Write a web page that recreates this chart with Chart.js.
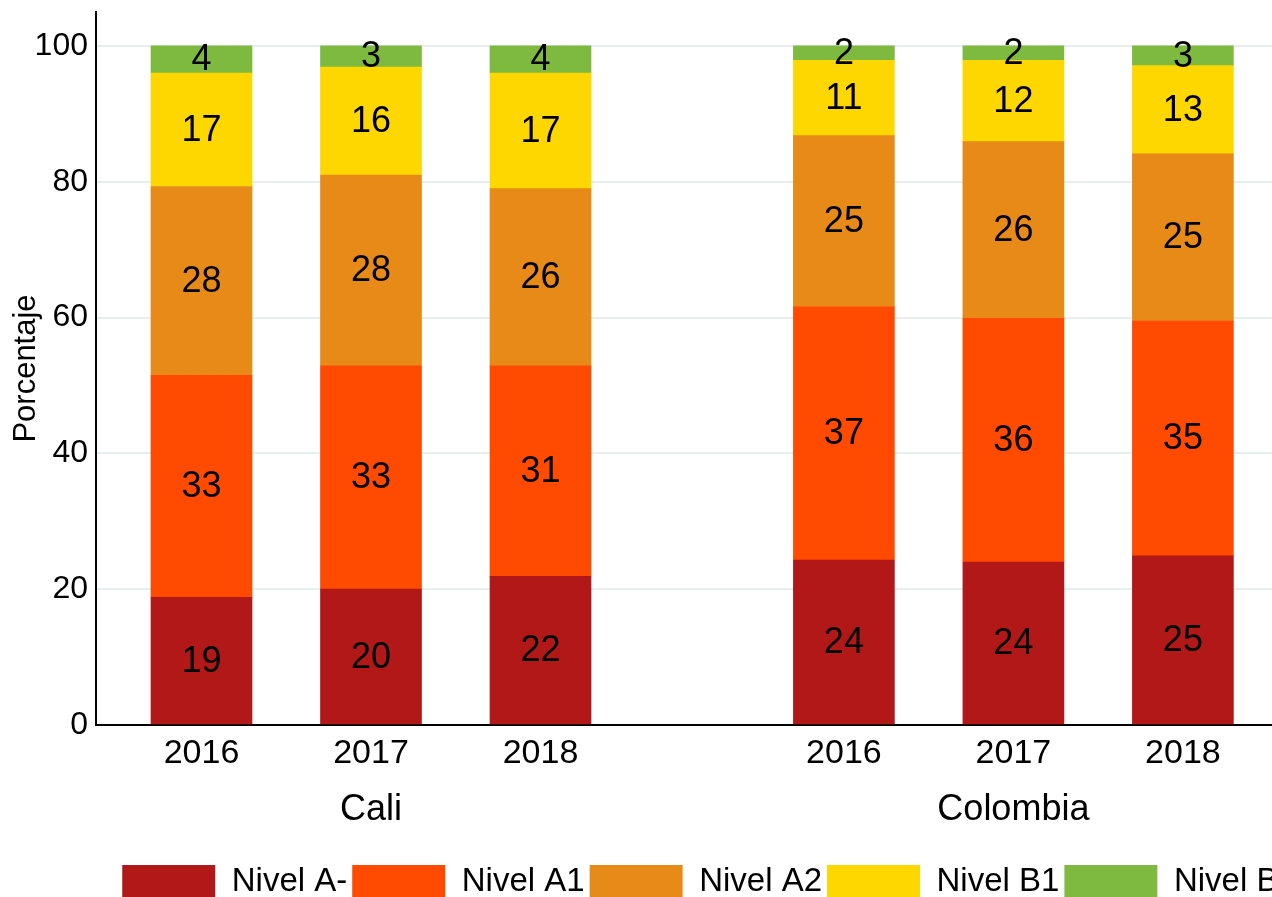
<!DOCTYPE html>
<html lang="es">
<head>
    <meta charset="UTF-8">
    <title>Niveles de inglés - Cali y Colombia</title>
    <script src="https://cdn.jsdelivr.net/npm/chart.js"></script>
    <style>
        html, body {
            margin: 0;
            padding: 0;
            background: #fff;
            overflow: hidden;
        }
        #wrap {
            position: absolute;
            left: 0;
            top: 0;
        }
    </style>
</head>
<body>

<div id="wrap">
    <canvas id="levelsChart" width="1419" height="912"></canvas>
</div>

<script>
    // Data
    const groups = ['Cali', 'Colombia'];
    const years = ['2016', '2017', '2018'];
    const levels = ['Nivel A-', 'Nivel A1', 'Nivel A2', 'Nivel B1', 'Nivel B2'];

    // one value per bar: Cali 2016-2018, Colombia 2016-2018
    const nivelAminus = [18.8, 20.0, 21.9, 24.3, 24.0, 24.9];
    const nivelA1 = [32.7, 32.9, 31.0, 37.3, 35.9, 34.6];
    const nivelA2 = [27.8, 28.1, 26.1, 25.2, 26.0, 24.6];
    const nivelB1 = [16.7, 15.9, 17.0, 11.1, 12.0, 13.0];
    const nivelB2 = [4.0, 3.1, 4.0, 2.1, 2.1, 2.9];

    const yTicks = [0, 20, 40, 60, 80, 100];

    const levelColors = ['#b31819', '#ff4a00', '#e78a18', '#fed700', '#7eba40'];
    const fontFamily = '"Liberation Sans", Arial, sans-serif';

    // layout of the bar slots on the x axis: groups separated by a wider gap
    const groupStep = years.length + 0.79;
    const slots = [];
    const slotLabels = [];
    groups.forEach((g, gi) => {
        years.forEach((yr, yi) => {
            slots.push(gi * groupStep + yi);
            slotLabels.push(yr);
        });
    });
    const groupCenters = groups.map((g, gi) => gi * groupStep + (years.length - 1) / 2);

    const series = [nivelAminus, nivelA1, nivelA2, nivelB1, nivelB2];
    const datasets = series.map((vals, i) => ({
        label: levels[i],
        data: vals.map((v, j) => ({ x: slots[j], y: v })),
        backgroundColor: levelColors[i],
        borderWidth: 0,
        barThickness: 101
    }));

    // labels in the middle of each segment
    const segmentLabels = {
        id: 'segmentLabels',
        afterDatasetsDraw(chart) {
            const ctx = chart.ctx;
            ctx.save();
            ctx.font = '36px ' + fontFamily;
            ctx.fillStyle = '#000';
            ctx.textAlign = 'center';
            ctx.textBaseline = 'middle';
            chart.data.datasets.forEach((ds, i) => {
                const meta = chart.getDatasetMeta(i);
                meta.data.forEach((bar, j) => {
                    const p = bar.getProps(['x', 'y', 'base'], true);
                    const txt = Math.round(series[i][j]).toString();
                    ctx.fillText(txt, p.x, (p.y + p.base) / 2 + 1);
                });
            });
            ctx.restore();
        }
    };

    const xMin = -0.6224;
    const xMax = 7.183;

    function noPadding(scale) {
        scale.paddingTop = 0;
        scale.paddingBottom = 0;
        scale.paddingLeft = 0;
        scale.paddingRight = 0;
    }

    const ctx = document.getElementById('levelsChart').getContext('2d');
    new Chart(ctx, {
        type: 'bar',
        data: { datasets: datasets },
        plugins: [segmentLabels],
        options: {
            responsive: false,
            animation: false,
            devicePixelRatio: 1,
            layout: { padding: { top: 12, bottom: 3, left: 0, right: 0 } },
            plugins: {
                tooltip: { enabled: false },
                legend: {
                    display: true,
                    position: 'bottom',
                    labels: {
                        boxWidth: 93,
                        boxHeight: 34,
                        padding: 5,
                        color: '#000',
                        font: { family: fontFamily, size: 33 }
                    }
                }
            },
            scales: {
                x: {
                    type: 'linear',
                    stacked: true,
                    offset: false,
                    min: xMin,
                    max: xMax,
                    grid: { display: false, drawTicks: false, offset: false },
                    border: { display: true, color: '#000', width: 2 },
                    afterBuildTicks(scale) {
                        scale.ticks = slots.map(v => ({ value: v }));
                    },
                    afterFit(scale) { scale.height = 58; noPadding(scale); },
                    ticks: {
                        autoSkip: false,
                        maxRotation: 0,
                        padding: 8,
                        color: '#000',
                        font: { family: fontFamily, size: 34 },
                        callback: (value, index) => slotLabels[index]
                    }
                },
                groupAxis: {
                    type: 'linear',
                    position: 'bottom',
                    offset: false,
                    min: xMin,
                    max: xMax,
                    grid: { display: false, drawTicks: false, offset: false },
                    border: { display: false },
                    afterBuildTicks(scale) {
                        scale.ticks = groupCenters.map(v => ({ value: v }));
                    },
                    afterFit(scale) { scale.height = 77; noPadding(scale); },
                    ticks: {
                        autoSkip: false,
                        maxRotation: 0,
                        padding: 5,
                        color: '#000',
                        font: { family: fontFamily, size: 36 },
                        callback: (value, index) => groups[index]
                    }
                },
                y: {
                    stacked: true,
                    min: 0,
                    max: 105,
                    grid: { color: '#e7eef0', lineWidth: 2, drawTicks: false },
                    border: { display: true, color: '#000', width: 2 },
                    afterBuildTicks(scale) {
                        scale.ticks = yTicks.map(v => ({ value: v }));
                    },
                    afterFit(scale) { scale.width = 96; noPadding(scale); },
                    ticks: {
                        padding: 8,
                        color: '#000',
                        font: { family: fontFamily, size: 32 }
                    },
                    title: {
                        display: true,
                        text: 'Porcentaje',
                        color: '#000',
                        padding: { top: 8, bottom: 0 },
                        font: { family: fontFamily, size: 31 }
                    }
                }
            }
        }
    });
</script>

</body>
</html>
